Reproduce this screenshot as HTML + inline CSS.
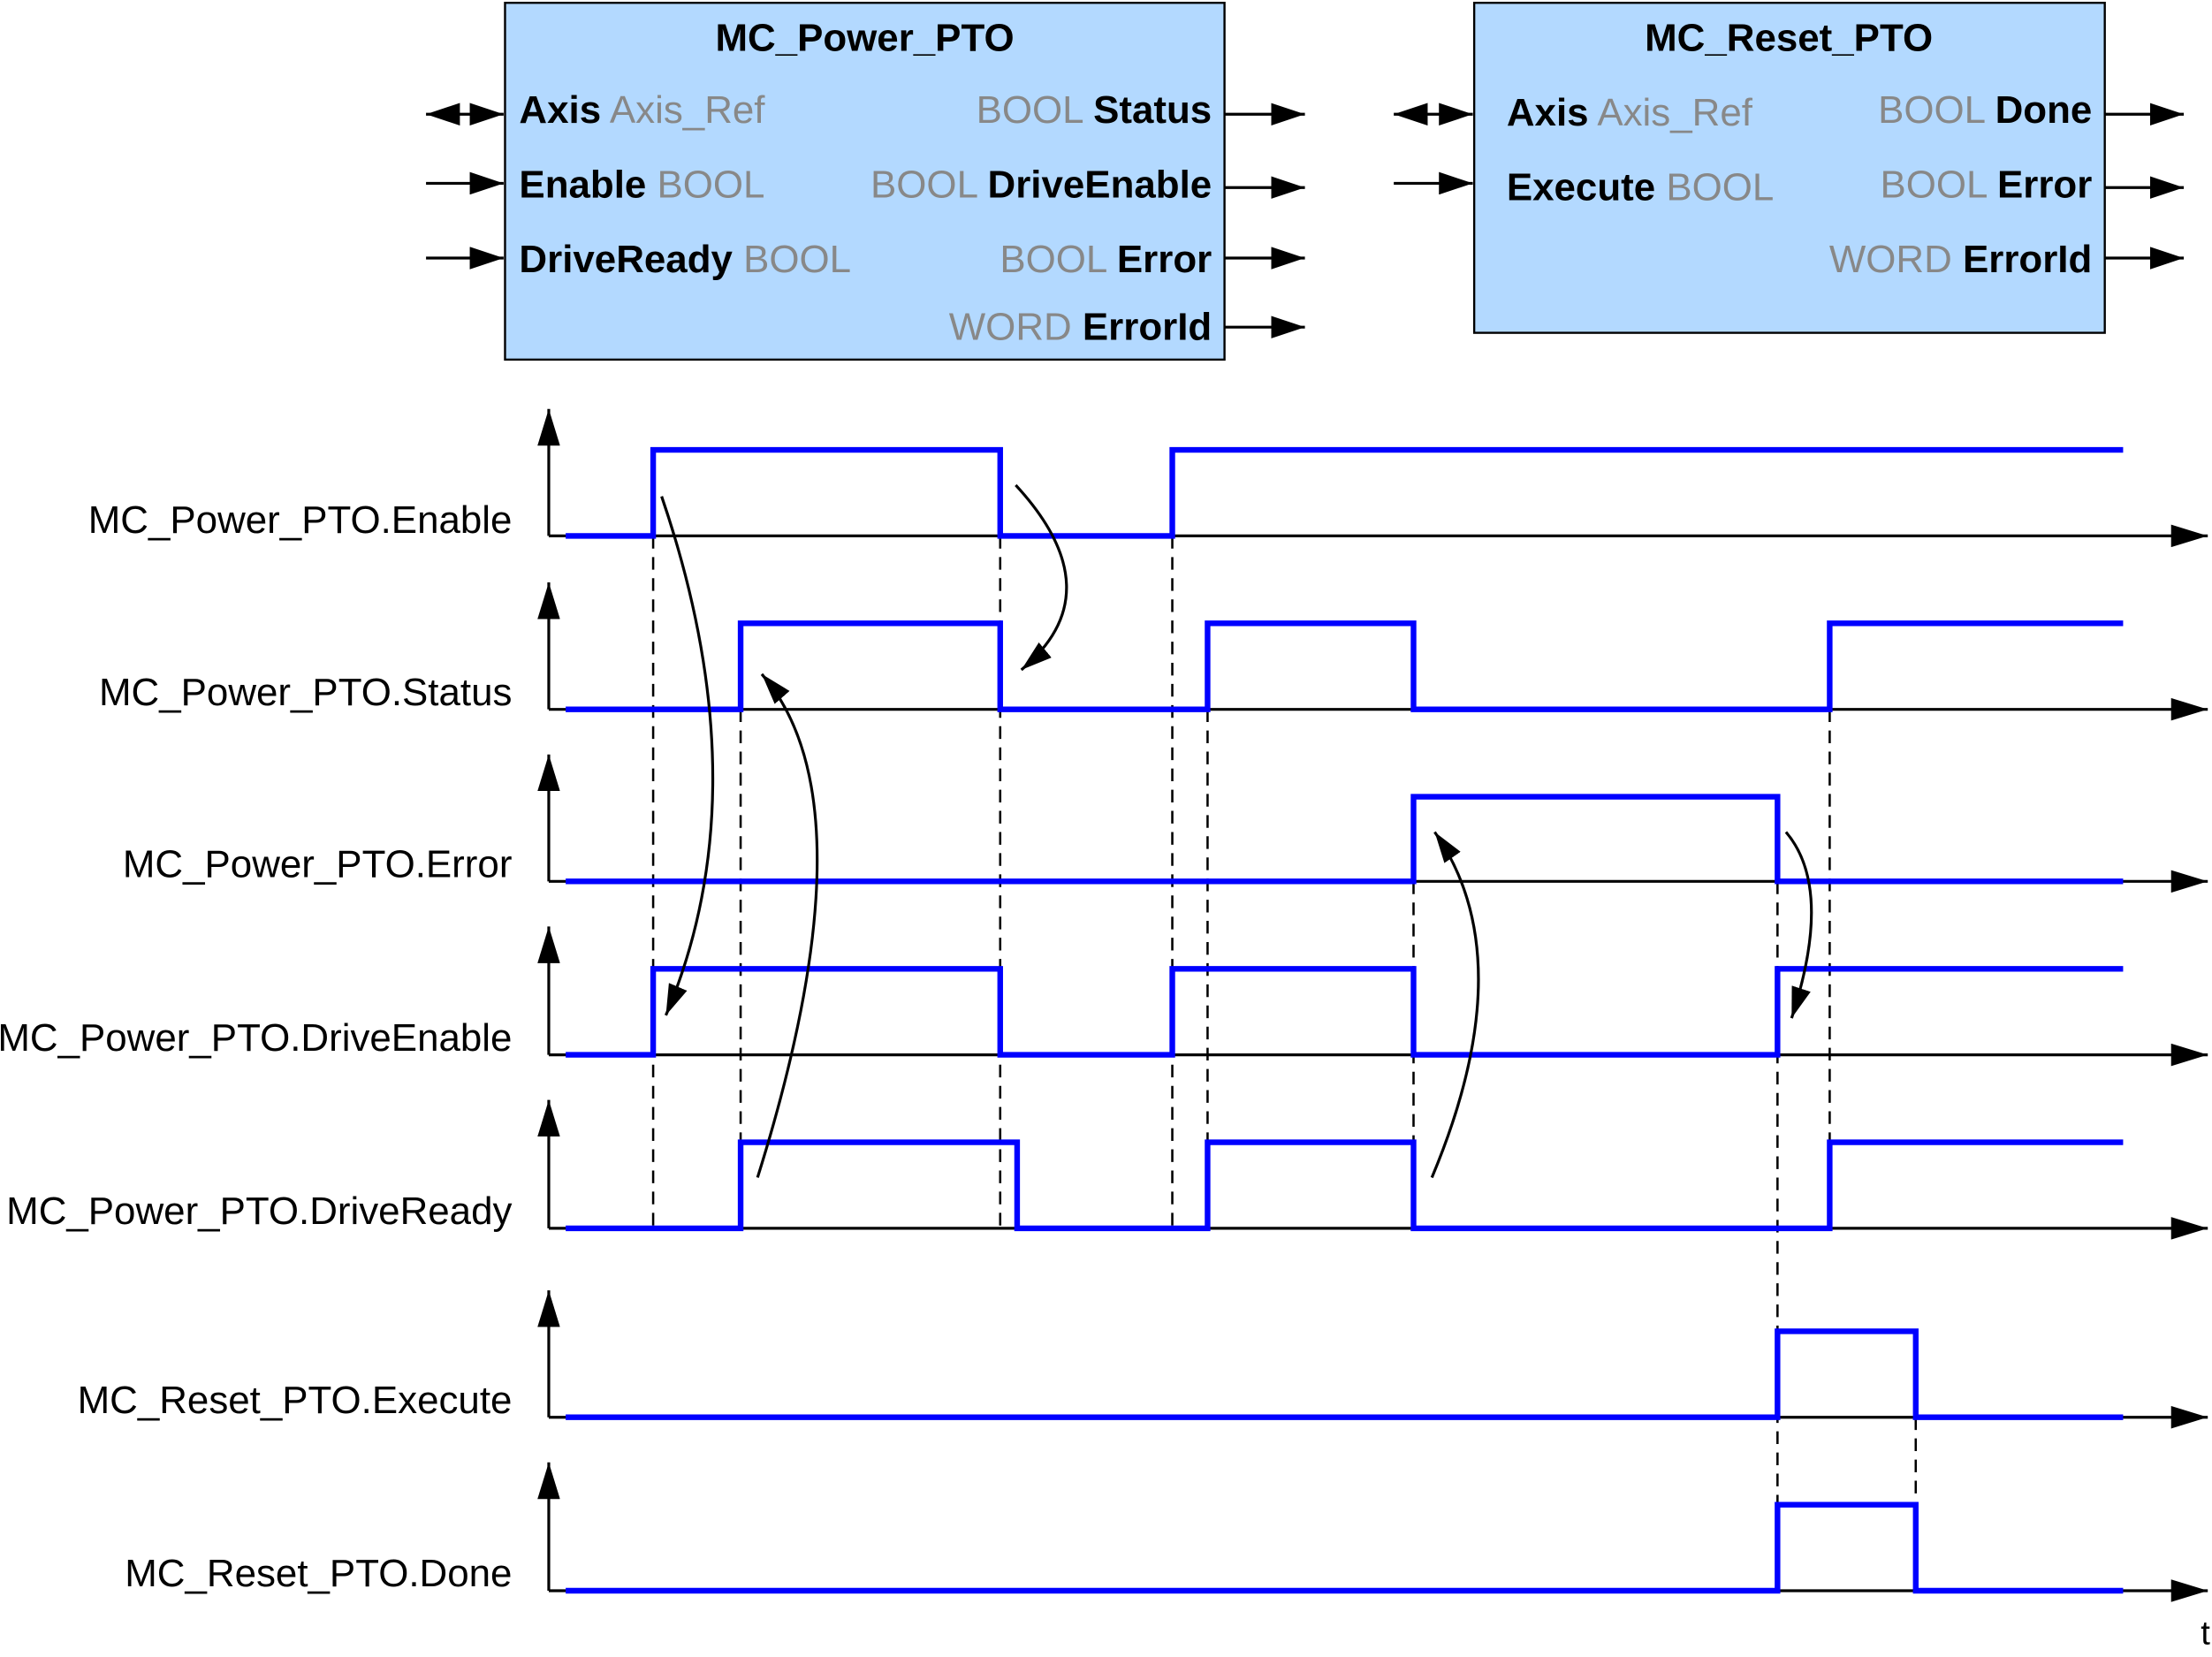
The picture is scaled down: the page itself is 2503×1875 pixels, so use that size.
<!DOCTYPE html>
<html><head><meta charset="utf-8"><style>
html,body{margin:0;padding:0;background:#fff;}
svg{display:block;}
text{font-family:"Liberation Sans",Arial,sans-serif;}
</style></head><body>
<svg width="2503" height="1875" viewBox="0 0 1568 1175" preserveAspectRatio="none" xmlns="http://www.w3.org/2000/svg">
<defs>
<marker id="ah" viewBox="0 0 24 16" refX="24" refY="8" markerWidth="24" markerHeight="16" markerUnits="userSpaceOnUse" orient="auto-start-reverse"><path d="M0,0 L24,8 L0,16 z" fill="#000"/></marker>
<marker id="ax" viewBox="0 0 26 16" refX="26" refY="8" markerWidth="26" markerHeight="16" markerUnits="userSpaceOnUse" orient="auto"><path d="M0,0 L26,8 L0,16 z" fill="#000"/></marker>
<marker id="cv" viewBox="0 0 22 14" refX="22" refY="7" markerWidth="22" markerHeight="14" markerUnits="userSpaceOnUse" orient="auto"><path d="M0,0 L22,7 L0,14 z" fill="#000"/></marker>
</defs>
<rect x="358" y="2" width="510" height="253" fill="#b3d9ff" stroke="#000" stroke-width="1.5"/>
<text x="613" y="36" font-size="27.5" font-weight="bold" text-anchor="middle">MC_Power_PTO</text>
<g font-size="27.5">
<text x="368" y="87"><tspan font-weight="bold">Axis</tspan><tspan fill="#888"> Axis_Ref</tspan></text>
<text x="368" y="140"><tspan font-weight="bold">Enable</tspan><tspan fill="#888"> BOOL</tspan></text>
<text x="368" y="193"><tspan font-weight="bold">DriveReady</tspan><tspan fill="#888"> BOOL</tspan></text>
<text x="859" y="87" text-anchor="end"><tspan fill="#888">BOOL </tspan><tspan font-weight="bold">Status</tspan></text>
<text x="859" y="140" text-anchor="end"><tspan fill="#888">BOOL </tspan><tspan font-weight="bold">DriveEnable</tspan></text>
<text x="859" y="193" text-anchor="end"><tspan fill="#888">BOOL </tspan><tspan font-weight="bold">Error</tspan></text>
<text x="859" y="241" text-anchor="end"><tspan fill="#888">WORD </tspan><tspan font-weight="bold">ErrorId</tspan></text>
</g>
<rect x="1045" y="2" width="447" height="234" fill="#b3d9ff" stroke="#000" stroke-width="1.5"/>
<text x="1268" y="36" font-size="27.5" font-weight="bold" text-anchor="middle">MC_Reset_PTO</text>
<g font-size="27.5">
<text x="1068" y="89"><tspan font-weight="bold">Axis</tspan><tspan fill="#888"> Axis_Ref</tspan></text>
<text x="1068" y="142"><tspan font-weight="bold">Execute</tspan><tspan fill="#888"> BOOL</tspan></text>
<text x="1483" y="87" text-anchor="end"><tspan fill="#888">BOOL </tspan><tspan font-weight="bold">Done</tspan></text>
<text x="1483" y="140" text-anchor="end"><tspan fill="#888">BOOL </tspan><tspan font-weight="bold">Error</tspan></text>
<text x="1483" y="193" text-anchor="end"><tspan fill="#888">WORD </tspan><tspan font-weight="bold">ErrorId</tspan></text>
</g>
<g stroke="#000" stroke-width="2" fill="none">
<path d="M302,130 H357" marker-end="url(#ah)"/>
<path d="M302,183 H357" marker-end="url(#ah)"/>
<path d="M302,81 H357" marker-start="url(#ah)" marker-end="url(#ah)"/>
<path d="M868,81 H925" marker-end="url(#ah)"/>
<path d="M868,133 H925" marker-end="url(#ah)"/>
<path d="M868,183 H925" marker-end="url(#ah)"/>
<path d="M868,232 H925" marker-end="url(#ah)"/>
<path d="M988,130 H1044" marker-end="url(#ah)"/>
<path d="M988,81 H1044" marker-start="url(#ah)" marker-end="url(#ah)"/>
<path d="M1492,81 H1548" marker-end="url(#ah)"/>
<path d="M1492,133 H1548" marker-end="url(#ah)"/>
<path d="M1492,183 H1548" marker-end="url(#ah)"/>
</g>
<g stroke="#000" stroke-width="2" fill="none">
<path d="M389,380 V290" marker-end="url(#ax)"/><path d="M389,380 H1565" marker-end="url(#ax)"/>
<path d="M389,503 V413" marker-end="url(#ax)"/><path d="M389,503 H1565" marker-end="url(#ax)"/>
<path d="M389,625 V535" marker-end="url(#ax)"/><path d="M389,625 H1565" marker-end="url(#ax)"/>
<path d="M389,748 V657" marker-end="url(#ax)"/><path d="M389,748 H1565" marker-end="url(#ax)"/>
<path d="M389,871 V780" marker-end="url(#ax)"/><path d="M389,871 H1565" marker-end="url(#ax)"/>
<path d="M389,1005 V915" marker-end="url(#ax)"/><path d="M389,1005 H1565" marker-end="url(#ax)"/>
<path d="M389,1128 V1037" marker-end="url(#ax)"/><path d="M389,1128 H1565" marker-end="url(#ax)"/>
</g>
<g font-size="27.5" text-anchor="end">
<text x="363" y="378">MC_Power_PTO.Enable</text>
<text x="363" y="500">MC_Power_PTO.Status</text>
<text x="363" y="622">MC_Power_PTO.Error</text>
<text x="363" y="745">MC_Power_PTO.DriveEnable</text>
<text x="363" y="868">MC_Power_PTO.DriveReady</text>
<text x="363" y="1002">MC_Reset_PTO.Execute</text>
<text x="363" y="1125">MC_Reset_PTO.Done</text>
</g>
<text x="1560" y="1166" font-size="24">t</text>
<g stroke="#000" stroke-width="1.6" stroke-dasharray="9,6" fill="none">
<path d="M463,380 V871"/><path d="M525,503 V871"/><path d="M709,380 V871"/>
<path d="M831,380 V871"/><path d="M856,503 V871"/><path d="M1002,625 V871"/>
<path d="M1260,625 V1128"/><path d="M1297,503 V871"/><path d="M1358,1005 V1128"/>
</g>
<g stroke="#0000ff" stroke-width="4" fill="none">
<path d="M401,380 H463 V319 H709 V380 H831 V319 H1505"/>
<path d="M401,503 H525 V442 H709 V503 H856 V442 H1002 V503 H1297 V442 H1505"/>
<path d="M401,625 H1002 V565 H1260 V625 H1505"/>
<path d="M401,748 H463 V687 H709 V748 H831 V687 H1002 V748 H1260 V687 H1505"/>
<path d="M401,871 H525 V810 H721 V871 H856 V810 H1002 V871 H1297 V810 H1505"/>
<path d="M401,1005 H1260 V944 H1358 V1005 H1505"/>
<path d="M401,1128 H1260 V1067 H1358 V1128 H1505"/>
</g>
<g stroke="#000" stroke-width="2" fill="none">
<path d="M469,352 Q540,560 472,720" marker-end="url(#cv)"/>
<path d="M537,835 Q620,570 540,478" marker-end="url(#cv)"/>
<path d="M720,344 Q790,420 724,475" marker-end="url(#cv)"/>
<path d="M1015,835 Q1080,680 1017,590" marker-end="url(#cv)"/>
<path d="M1266,590 Q1300,630 1270,722" marker-end="url(#cv)"/>
</g>
</svg>
</body></html>
